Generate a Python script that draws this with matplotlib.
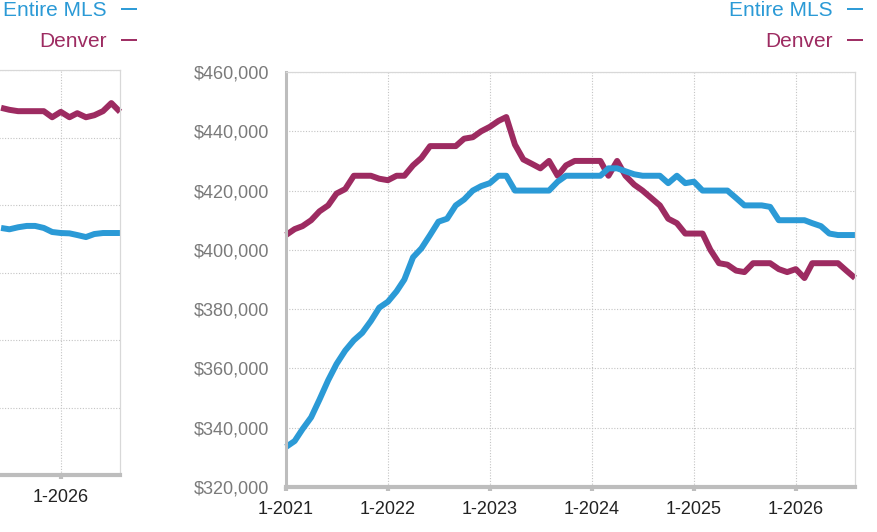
import pandas as pd
import matplotlib
matplotlib.use("Agg")
import matplotlib.pyplot as plt
import matplotlib.dates as mdates
from matplotlib.ticker import FuncFormatter

plt.rcParams['font.family'] = ['Liberation Sans', 'DejaVu Sans']

BLUE = "#2b9ad6"
MAROON = "#9d2b61"

# right panel: monthly values, Jan 2021 .. Aug 2026 (in $1000)
months = pd.date_range("2021-01-01", "2026-08-01", freq="MS")
denver = [405, 407, 408, 410, 413, 415, 419, 420.5, 425, 425, 425, 424,
          423.5, 425, 425, 428.5, 431, 435, 435, 435, 435, 437.5, 438, 440,
          441.5, 443.5, 444.8, 435.5, 430.5, 429, 427.5, 430, 425, 428.5, 430, 430,
          430, 430, 425, 430, 425, 422, 420, 417.5, 415, 410.5, 409, 405.5,
          405.5, 405.5, 400, 395.5, 395, 393, 392.5, 395.5, 395.5, 395.5, 393.5, 392.5,
          393.5, 390.5, 395.5, 395.5, 395.5, 395.5, 393, 390.5]
entire_mls = [333.5, 335.5, 339.5, 343.5, 349.5, 356, 361.5, 366, 369.5, 372, 376, 380.5,
              382.5, 386, 390, 397.5, 400.5, 405, 409.5, 410.5, 415, 417, 420, 421.5,
              422.5, 425, 425, 420, 420, 420, 420, 420, 423, 425, 425, 425,
              425, 425, 427.5, 427.5, 426.5, 425.5, 425, 425, 425, 422.5, 425, 422.5,
              423, 420, 420, 420, 420, 417.5, 415, 415, 415, 414.5, 410, 410,
              410, 410, 409, 408, 405.5, 405, 405, 405]

# left panel (only its right end is visible), Jun 2025 .. Aug 2026 (in $1000)
left_months = pd.date_range("2025-06-01", "2026-08-01", freq="MS")
left_denver = [544, 541, 539, 539, 539, 539, 530, 538, 530, 536, 530, 533, 539, 551, 538]
left_mls = [366, 364, 367, 369, 369, 366, 360, 358.5, 358, 355.5, 352.5, 357, 358.5, 358.5, 358.5]

right_yticks = list(range(320, 461, 20))
left_yticks = list(range(0, 601, 100))

W, H = 878, 532
fig = plt.figure(figsize=(W / 100, H / 100), dpi=100)


def px_axes(left, right, top, bottom):
    return fig.add_axes([left / W, 1 - bottom / H, (right - left) / W, (bottom - top) / H])


def style(ax, yticks):
    ax.set_xlim(months[0], months[-1])
    ax.set_ylim(yticks[0] * 1000, yticks[-1] * 1000)
    ax.set_yticks([v * 1000 for v in yticks])
    ax.yaxis.set_major_formatter(FuncFormatter(lambda v, p: f"${v:,.0f}"))
    ax.xaxis.set_major_locator(mdates.YearLocator())
    ax.xaxis.set_major_formatter(mdates.DateFormatter("1-%Y"))
    ax.grid(True, linestyle=(0, (1, 1.5)), color="#c4c4c4", linewidth=0.8)
    ax.set_axisbelow(True)
    for s in ("left", "bottom"):
        ax.spines[s].set_color("#bdbdbd")
    ax.spines["left"].set_linewidth(2.2)
    ax.spines["bottom"].set_linewidth(3)
    for s in ("top", "right"):
        ax.spines[s].set_color("#d8d8d8")
        ax.spines[s].set_linewidth(0.9)
    ax.tick_params(axis="x", direction="out", length=3, width=3, color="#bdbdbd",
                   labelsize=13, labelcolor="#222222", pad=7)
    ax.tick_params(axis="y", length=0, labelsize=13, labelcolor="#7a7a7a", pad=12)


def draw(ax, x, d, m, legend_anchor):
    ax.plot(x, [v * 1000 for v in d], color=MAROON, lw=4.3, label="Denver",
            solid_capstyle="butt", solid_joinstyle="round", clip_on=False)
    ax.plot(x, [v * 1000 for v in m], color=BLUE, lw=4.3, label="Entire MLS",
            solid_capstyle="butt", solid_joinstyle="round", clip_on=False)
    h, l = ax.get_legend_handles_labels()
    leg = fig.legend(h[::-1], l[::-1], loc="upper right",
                     bbox_to_anchor=(legend_anchor / W, 1 - 1 / H), frameon=False,
                     markerfirst=False, fontsize=15, labelcolor="linecolor",
                     handlelength=0.75, handletextpad=0.7, labelspacing=0.58,
                     borderpad=0, borderaxespad=0)
    for lh in leg.legend_handles:
        lh.set_linewidth(1.4)


# left panel sits mostly off the left edge; only its last year shows
ax_left = px_axes(-449, 120, 70, 475)
style(ax_left, left_yticks)
ax_left.set_xticks([pd.Timestamp("2026-01-01")])
ax_left.set_yticks([v * 1000 for v in left_yticks], labels=[""] * len(left_yticks))
draw(ax_left, left_months, left_denver, left_mls, 137)

ax = px_axes(286, 855, 72, 487)
style(ax, right_yticks)
draw(ax, months, denver, entire_mls, 863)

fig.savefig("out.png", dpi=100)
